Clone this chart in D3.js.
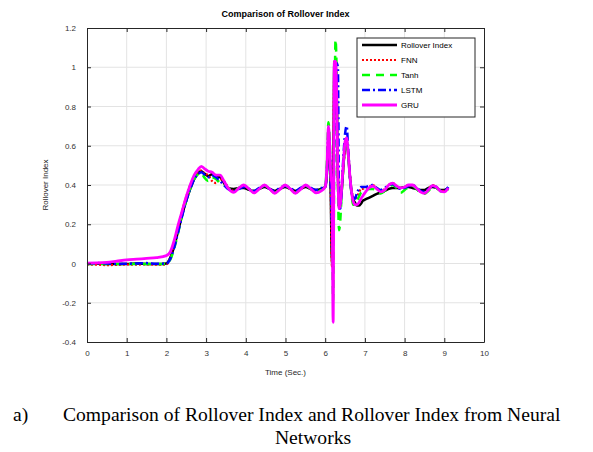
<!DOCTYPE html>
<html>
<head>
  <meta charset="utf-8">
  <title>Comparison of Rollover Index</title>
  <script src="https://d3js.org/d3.v7.min.js"></script>
  <style>
    body { margin: 0; background: #fff; }
    svg { font-family: "Liberation Sans", Arial, sans-serif; }
    .grid line { stroke: #e3e3e3; stroke-width: 1; }
    .series { fill: none; }
    .caption { font-family: "Liberation Serif", "Times New Roman", serif; font-size: 19.6px; fill: #000; }
  </style>
</head>
<body>
  <svg width="593" height="452"></svg>

  <script>
    // time samples (s), denser around the spike
    const time = [
      0, 0.25, 0.5, 0.75, 1.0, 1.25, 1.5, 1.75, 2.0, 2.1, 2.2, 2.3, 2.4, 2.5, 2.6, 2.7, 2.8, 2.88, 2.95,
      3.05, 3.15, 3.25, 3.35, 3.45, 3.55, 3.7, 3.83, 3.95, 4.08, 4.21, 4.34, 4.47, 4.6, 4.73, 4.86, 4.99,
      5.12, 5.25, 5.38, 5.51, 5.64, 5.77, 5.9,
      6.0, 6.05, 6.08, 6.11, 6.14, 6.17, 6.2, 6.23, 6.26, 6.29, 6.32, 6.35, 6.38, 6.42, 6.46, 6.5, 6.54,
      6.58, 6.62, 6.66, 6.7, 6.75, 6.8, 6.85, 6.9,
      6.95, 7.0, 7.1, 7.2, 7.3, 7.4, 7.5, 7.6, 7.7, 7.8, 7.9, 8.0, 8.1, 8.2, 8.3, 8.4, 8.5, 8.6, 8.7,
      8.8, 8.9, 9.0, 9.1
    ];

    const rolloverIndex = [
      -0.002, 0.0, -0.003, -0.002, -0.003, 0.0, -0.002, -0.003, 0.0, 0.03, 0.09, 0.17, 0.25, 0.32, 0.38, 0.43, 0.46, 0.47, 0.46,
      0.445, 0.455, 0.445, 0.44, 0.41, 0.385, 0.38, 0.385, 0.385, 0.375, 0.37, 0.38, 0.39, 0.38, 0.37, 0.38, 0.39,
      0.38, 0.37, 0.38, 0.39, 0.38, 0.375, 0.38,
      0.39, 0.48, 0.62, 0.58, 0.35, 0.0, 0.35, 1.03, 1.02, 0.85, 0.45, 0.28, 0.30, 0.38, 0.50, 0.60, 0.62,
      0.55, 0.45, 0.37, 0.33, 0.31, 0.295, 0.295, 0.305,
      0.32, 0.325, 0.335, 0.345, 0.355, 0.36, 0.37, 0.38, 0.385, 0.385, 0.385, 0.39, 0.39, 0.385, 0.38, 0.375, 0.375, 0.385, 0.39,
      0.385, 0.375, 0.375, 0.385
    ];

    const fnn = [
      -0.005, -0.006, -0.008, -0.007, -0.005, -0.006, -0.004, -0.006, -0.005, 0.03, 0.1, 0.19, 0.27, 0.34, 0.4, 0.44, 0.465, 0.475, 0.46,
      0.45, 0.42, 0.41, 0.43, 0.42, 0.39, 0.37, 0.385, 0.395, 0.38, 0.365, 0.38, 0.395, 0.38, 0.362, 0.38, 0.395,
      0.38, 0.362, 0.38, 0.395, 0.38, 0.365, 0.375,
      0.39, 0.50, 0.66, 0.60, 0.35, -0.02, 0.40, 1.0, 1.02, 0.85, 0.45, 0.30, 0.32, 0.40, 0.50, 0.58, 0.62,
      0.57, 0.46, 0.38, 0.34, 0.33, 0.34, 0.36, 0.38,
      0.38, 0.385, 0.39, 0.40, 0.385, 0.37, 0.38, 0.40, 0.41, 0.395, 0.385, 0.39, 0.40, 0.40, 0.385, 0.365, 0.36, 0.38, 0.40,
      0.39, 0.37, 0.37, 0.385
    ];

    const tanh = [
      -0.003, -0.002, -0.003, -0.002, -0.003, -0.002, -0.003, -0.002, -0.003, 0.02, 0.08, 0.16, 0.25, 0.32, 0.38, 0.43, 0.455, 0.46, 0.44,
      0.42, 0.44, 0.43, 0.41, 0.40, 0.385, 0.37, 0.385, 0.395, 0.38, 0.362, 0.38, 0.397, 0.38, 0.36, 0.38, 0.397,
      0.38, 0.36, 0.38, 0.397, 0.38, 0.365, 0.375,
      0.39, 0.55, 0.72, 0.65, 0.45, 0.30, -0.19, 0.60, 1.14, 0.95, 0.40, 0.17, 0.22, 0.38, 0.50, 0.60, 0.63,
      0.55, 0.44, 0.36, 0.30, 0.30, 0.32, 0.34, 0.36,
      0.365, 0.37, 0.38, 0.38, 0.37, 0.357, 0.37, 0.39, 0.40, 0.385, 0.36, 0.375, 0.39, 0.395, 0.38, 0.36, 0.355, 0.37, 0.39,
      0.385, 0.37, 0.365, 0.38
    ];

    const lstm = [
      0.0, 0.002, 0.0, -0.002, -0.001, 0.0, 0.002, -0.001, 0.0, 0.025, 0.085, 0.165, 0.245, 0.32, 0.38, 0.43, 0.455, 0.465, 0.455,
      0.44, 0.45, 0.44, 0.42, 0.40, 0.38, 0.37, 0.38, 0.39, 0.38, 0.37, 0.385, 0.395, 0.38, 0.37, 0.385, 0.395,
      0.385, 0.37, 0.385, 0.395, 0.385, 0.375, 0.385,
      0.39, 0.50, 0.65, 0.60, 0.40, 0.20, 0.10, 0.70, 1.02, 1.02, 1.0, 0.30, 0.28, 0.40, 0.55, 0.66, 0.70,
      0.58, 0.45, 0.37, 0.34, 0.33, 0.36, 0.38, 0.39,
      0.39, 0.39, 0.395, 0.40, 0.385, 0.375, 0.385, 0.40, 0.405, 0.39, 0.38, 0.385, 0.395, 0.40, 0.385, 0.37, 0.365, 0.38, 0.395,
      0.39, 0.37, 0.37, 0.39
    ];

    const gru = [
      0.002, 0.003, 0.006, 0.012, 0.018, 0.022, 0.026, 0.03, 0.04, 0.06, 0.12, 0.2, 0.27, 0.34, 0.40, 0.45, 0.48, 0.495, 0.485,
      0.47, 0.465, 0.45, 0.45, 0.42, 0.385, 0.362, 0.385, 0.40, 0.38, 0.36, 0.38, 0.40, 0.38, 0.358, 0.378, 0.40,
      0.38, 0.358, 0.378, 0.40, 0.38, 0.36, 0.37,
      0.39, 0.52, 0.70, 0.62, 0.45, 0.40, -0.30, 1.03, 1.03, 0.85, 0.45, 0.28, 0.30, 0.40, 0.52, 0.62, 0.64,
      0.56, 0.45, 0.37, 0.32, 0.30, 0.30, 0.31, 0.33,
      0.345, 0.36, 0.385, 0.395, 0.38, 0.365, 0.375, 0.40, 0.41, 0.395, 0.385, 0.39, 0.40, 0.40, 0.385, 0.365, 0.357, 0.375, 0.397,
      0.39, 0.37, 0.365, 0.385
    ];

    const seriesNames = ["Rollover Index", "FNN", "Tanh", "LSTM", "GRU"];
    const xTicks = [0, 1, 2, 3, 4, 5, 6, 7, 8, 9, 10];
    const yTicks = [-0.4, -0.2, 0, 0.2, 0.4, 0.6, 0.8, 1, 1.2];

    const styles = [
      { color: "#000000", width: 2.5, dash: null },
      { color: "#ff0000", width: 2.2, dash: "2,2" },
      { color: "#00ff00", width: 2.5, dash: "8,6" },
      { color: "#0000ff", width: 2.5, dash: "8,3,2,3" },
      { color: "#ff00ff", width: 2.8, dash: null }
    ];
    const values = [rolloverIndex, fnn, tanh, lstm, gru];

    const svg = d3.select("svg");
    const margin = { top: 28, right: 109, bottom: 110, left: 87 };
    const width = +svg.attr("width");
    const height = +svg.attr("height");

    const x = d3.scaleLinear().domain([0, 10]).range([margin.left, width - margin.right]);
    const y = d3.scaleLinear().domain([-0.4, 1.2]).range([height - margin.bottom, margin.top]);

    // grid
    const grid = svg.append("g").attr("class", "grid");
    grid.selectAll(".vx").data(xTicks.slice(1, -1)).join("line")
      .attr("x1", d => x(d)).attr("x2", d => x(d))
      .attr("y1", y(1.2)).attr("y2", y(-0.4));
    grid.selectAll(".hy").data(yTicks.slice(1, -1)).join("line")
      .attr("x1", x(0)).attr("x2", x(10))
      .attr("y1", d => y(d)).attr("y2", d => y(d));

    // curves
    const line = d3.line()
      .x((d, i) => x(time[i]))
      .y(d => y(d))
      .curve(d3.curveMonotoneX);

    const plot = svg.append("g");
    values.forEach((vals, k) => {
      plot.append("path")
        .datum(vals)
        .attr("class", "series")
        .attr("stroke", styles[k].color)
        .attr("stroke-width", styles[k].width)
        .attr("stroke-dasharray", styles[k].dash)
        .attr("stroke-linejoin", "round")
        .attr("d", line);
    });

    // axes (box with inward ticks, MATLAB style)
    const fmt = d => String(+d.toFixed(1));
    const axisStyle = g => {
      g.select(".domain").attr("stroke", "#262626");
      g.selectAll(".tick line").attr("stroke", "#262626");
      g.selectAll(".tick text").attr("fill", "#333").attr("font-size", 8);
    };

    svg.append("g")
      .attr("transform", `translate(0,${y(-0.4)})`)
      .call(d3.axisBottom(x).tickValues(xTicks).tickFormat(fmt).tickSizeInner(-4).tickSizeOuter(0).tickPadding(8))
      .call(axisStyle);
    svg.append("g")
      .attr("transform", `translate(0,${y(1.2)})`)
      .call(d3.axisTop(x).tickValues(xTicks).tickFormat("").tickSizeInner(-4).tickSizeOuter(0))
      .call(axisStyle);
    svg.append("g")
      .attr("transform", `translate(${x(0)},0)`)
      .call(d3.axisLeft(y).tickValues(yTicks).tickFormat(fmt).tickSizeInner(-4).tickSizeOuter(0).tickPadding(11))
      .call(axisStyle);
    svg.append("g")
      .attr("transform", `translate(${x(10)},0)`)
      .call(d3.axisRight(y).tickValues(yTicks).tickFormat("").tickSizeInner(-4).tickSizeOuter(0))
      .call(axisStyle);

    // title and axis labels
    svg.append("text")
      .attr("x", (x(0) + x(10)) / 2).attr("y", 17)
      .attr("text-anchor", "middle")
      .attr("font-size", 9).attr("font-weight", "bold")
      .text("Comparison of Rollover Index");

    svg.append("text")
      .attr("x", (x(0) + x(10)) / 2).attr("y", 375)
      .attr("text-anchor", "middle")
      .attr("font-size", 8).attr("fill", "#262626")
      .text("Time (Sec.)");

    svg.append("text")
      .attr("transform", `translate(48,${(y(-0.4) + y(1.2)) / 2}) rotate(-90)`)
      .attr("text-anchor", "middle")
      .attr("font-size", 8).attr("fill", "#262626")
      .text("Rollover Index");

    // legend
    const legend = svg.append("g").attr("transform", "translate(357,38)");
    legend.append("rect")
      .attr("width", 118).attr("height", 79)
      .attr("fill", "#fff").attr("stroke", "#262626").attr("stroke-width", 1);
    seriesNames.forEach((name, k) => {
      const ly = 7 + k * 15;
      legend.append("line")
        .attr("x1", 5).attr("x2", 40).attr("y1", ly).attr("y2", ly)
        .attr("stroke", styles[k].color)
        .attr("stroke-width", styles[k].width)
        .attr("stroke-dasharray", styles[k].dash);
      legend.append("text")
        .attr("x", 44).attr("y", ly + 3)
        .attr("font-size", 8).attr("fill", "#000")
        .text(name);
    });

    // figure caption
    svg.append("text").attr("class", "caption").attr("x", 13).attr("y", 421).text("a)");
    svg.append("text").attr("class", "caption").attr("x", 63).attr("y", 421)
      .text("Comparison of Rollover Index and Rollover Index from Neural");
    svg.append("text").attr("class", "caption").attr("x", 313).attr("y", 444)
      .attr("text-anchor", "middle").text("Networks");
  </script>
</body>
</html>
